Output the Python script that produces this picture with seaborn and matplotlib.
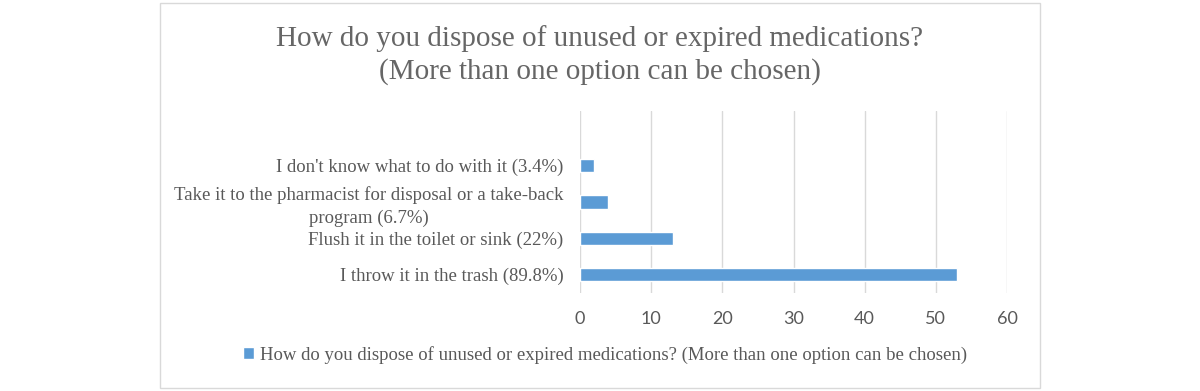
import matplotlib
matplotlib.use("Agg")
import matplotlib.pyplot as plt
import seaborn as sns
import pandas as pd
from matplotlib.patches import Rectangle, Patch

# Données
categories = [
    "I don't know what to do with it (3.4%)",
    "Take it to the pharmacist for disposal or a take-back\nprogram (6.7%)",
    "Flush it in the toilet or sink (22%)",
    "I throw it in the trash (89.8%)",
]
counts = [2, 4, 13, 53]
xticks = [0, 10, 20, 30, 40, 50, 60]
title = "How do you dispose of unused or expired medications?\n(More than one option can be chosen)"
series_name = "How do you dispose of unused or expired medications? (More than one option can be chosen)"

bar_color = "#5B9BD5"
text_gray = "#595959"
grid_gray = "#D9D9D9"

df = pd.DataFrame({"option": categories, "count": counts})

sns.set_style("white")
plt.rcParams["font.family"] = ["Liberation Serif", "DejaVu Serif"]

fig = plt.figure(figsize=(12, 3.91), dpi=100)
# zone de tracé : x 580-1007 px, y 111-293 px
ax = fig.add_axes([580 / 1200, 98 / 391, 427 / 1200, 182 / 391])

sns.barplot(data=df, x="count", y="option", orient="h", order=categories,
            color=bar_color, width=0.36, saturation=1, ax=ax)

ax.set_xlim(0, 60)
# Excel laisse une case vide en haut
ax.set_ylim(3.5, -1.5)
ax.set_xticks(xticks)
ax.set_xticklabels([str(t) for t in xticks], family="Lato", fontsize=13, color=text_gray)
ax.tick_params(axis="both", length=0)
ax.tick_params(axis="x", pad=13)
ax.tick_params(axis="y", pad=12)
for lbl in ax.get_yticklabels():
    lbl.set_fontsize(13.5)
    lbl.set_color(text_gray)
    lbl.set_multialignment("center")
    lbl.set_linespacing(1.4)
ax.set_xlabel("")
ax.set_ylabel("")
ax.grid(axis="x", color=grid_gray, linewidth=1)
ax.set_axisbelow(True)
for s in ax.spines.values():
    s.set_visible(False)

# cadre du graphique
fig.patches.append(Rectangle((160 / 1200, 3 / 391), 880 / 1200, 385 / 391,
                             transform=fig.transFigure, fill=False,
                             edgecolor=grid_gray, linewidth=1))

fig.text(600 / 1200, 1 - 55 / 391, title, ha="center", va="center",
         fontsize=21, color="#666666", linespacing=1.32)

fig.legend(handles=[Patch(facecolor=bar_color, label=series_name)],
           loc="center", bbox_to_anchor=(605 / 1200, 1 - 355 / 391),
           frameon=False, fontsize=13.5, labelcolor=text_gray,
           handlelength=0.6, handleheight=0.6, handletextpad=0.3)

fig.savefig("out.png", dpi=100, facecolor="white")
